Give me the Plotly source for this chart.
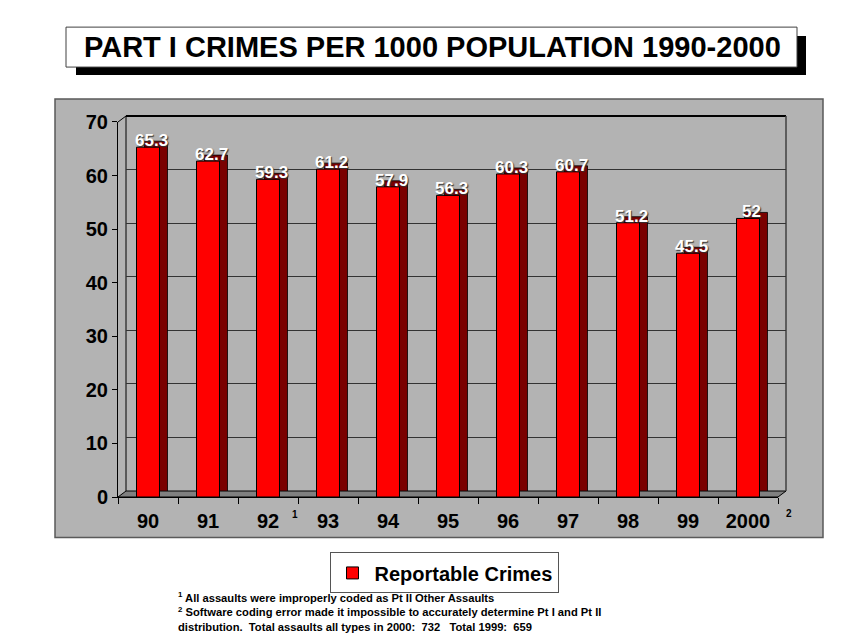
import plotly.graph_objects as go

# ---- data ----
years = ["90", "91", "92", "93", "94", "95", "96", "97", "98", "99", "2000"]
rates = [65.3, 62.7, 59.3, 61.2, 57.9, 56.3, 60.3, 60.7, 51.2, 45.5, 52]
rate_labels = [f"{v:g}" for v in rates]
y_ticks = [0, 10, 20, 30, 40, 50, 60, 70]
series_name = "Reportable Crimes"
title_text = "PART I CRIMES PER 1000 POPULATION 1990-2000"
footnotes = ("<sup>1</sup> All assaults were improperly coded as Pt II Other Assaults<br>"
             "<sup>2</sup> Software coding error made it impossible to accurately determine Pt I and Pt II<br>"
             "distribution.  Total assaults all types in 2000:  732   Total 1999:  659")

# ---- geometry (pixels in the 845x642 window) ----
FIG_W, FIG_H = 845, 642
OFF = 8  # page body margin
L, R, T, B = 118, 786, 116, 497.5
W, H = R - L, B - T
DX, DY = 8, 6  # 3-D depth


def px(x):
    return (x - L) / W


def py(y):
    return (B - y) / H


FONT = "Liberation Sans, Arial, Helvetica, sans-serif"

fig = go.Figure()

# back (depth) faces
fig.add_trace(go.Bar(
    x=years, y=rates, xaxis="x", yaxis="y",
    marker=dict(color="#7a0000", line=dict(color="#000000", width=0.8)),
    showlegend=False, hoverinfo="skip"))

# front faces
fig.add_trace(go.Bar(
    x=years, y=rates, xaxis="x2", yaxis="y2", name=series_name,
    marker=dict(color="#ff0000", line=dict(color="#000000", width=1))))

shapes = []
# grey chart box
shapes.append(dict(type="rect", xref="paper", yref="paper",
                   x0=px(55), x1=px(823), y0=py(538), y1=py(99),
                   fillcolor="#b3b3b3", line=dict(color="#5a5a5a", width=1.5),
                   layer="below"))
# floor
shapes.append(dict(type="path", xref="paper", yref="paper",
                   path=f"M{px(L)},{py(B)} L{px(R-DX)},{py(B)} L{px(R)},{py(B-DY)} L{px(L+DX)},{py(B-DY)} Z",
                   fillcolor="#808080", line=dict(color="#000000", width=1), layer="below"))
# left wall edges
shapes.append(dict(type="line", xref="paper", yref="paper",
                   x0=px(L + DX), x1=px(L + DX), y0=py(B - DY), y1=py(T),
                   line=dict(color="#000000", width=1), layer="below"))
shapes.append(dict(type="line", xref="paper", yref="paper",
                   x0=px(L), x1=px(L + DX), y0=py(T + DY), y1=py(T),
                   line=dict(color="#000000", width=1), layer="below"))
# back wall top and right
shapes.append(dict(type="line", xref="paper", yref="paper",
                   x0=px(L + DX), x1=px(R), y0=py(T), y1=py(T),
                   line=dict(color="#000000", width=2), layer="below"))
shapes.append(dict(type="line", xref="paper", yref="paper",
                   x0=px(R), x1=px(R), y0=py(T), y1=py(B - DY),
                   line=dict(color="#404040", width=1.5), layer="below"))
# title shadow and box
shapes.append(dict(type="rect", xref="paper", yref="paper",
                   x0=px(76), x1=px(806), y0=py(75), y1=py(36),
                   fillcolor="#000000", line=dict(width=0), layer="below"))
shapes.append(dict(type="rect", xref="paper", yref="paper",
                   x0=px(66), x1=px(797), y0=py(67), y1=py(27),
                   fillcolor="#ffffff", line=dict(color="#404040", width=1), layer="below"))

annotations = [
    dict(text=title_text, xref="paper", yref="paper", x=px(432), y=py(47),
         xanchor="center", yanchor="middle", showarrow=False,
         font=dict(family=FONT, size=29, color="#000000", weight="bold")),
    dict(text="1", xref="paper", yref="paper", x=px(295), y=py(515),
         xanchor="center", yanchor="middle", showarrow=False,
         font=dict(family=FONT, size=10, color="#000000", weight="bold")),
    dict(text="2", xref="paper", yref="paper", x=px(789), y=py(514),
         xanchor="center", yanchor="middle", showarrow=False,
         font=dict(family=FONT, size=10, color="#000000", weight="bold")),
    dict(text=footnotes, xref="paper", yref="paper", x=px(176), y=py(589),
         xanchor="left", yanchor="top", align="left", showarrow=False,
         font=dict(family=FONT, size=11.2, color="#000000", weight="bold")),
]

# value labels (placed on the data points of the front bars; x = category index)
for i, (v, lab) in enumerate(zip(rates, rate_labels)):
    annotations.append(dict(
        text=lab, xref="x2", yref="y2", x=i, y=v,
        xanchor="center", yanchor="bottom", xshift=3, yshift=-5,
        showarrow=False,
        font=dict(family=FONT, size=17, color="#ffffff", weight="bold",
                  shadow="1px 1px 1px #303030")))

fig.update_layout(
    width=FIG_W - OFF, height=FIG_H - OFF,
    margin=dict(l=L - OFF, r=FIG_W - R, t=T - OFF, b=FIG_H - B, pad=0),
    paper_bgcolor="#ffffff", plot_bgcolor="rgba(0,0,0,0)",
    bargap=0.617, barmode="group",
    font=dict(family=FONT, color="#000000"),
    shapes=shapes, annotations=annotations,
    xaxis=dict(domain=[DX / W, 1], anchor="y", type="category",
               showticklabels=False, ticks="", showgrid=False, showline=False,
               zeroline=False),
    yaxis=dict(domain=[DY / H, 1], anchor="x", range=[0, 70], tickvals=y_ticks,
               showticklabels=False, ticks="", showgrid=True,
               gridcolor="#333333", gridwidth=1, zeroline=False, showline=False),
    xaxis2=dict(domain=[0, (W - DX) / W], anchor="y2", type="category",
                tickson="boundaries", ticks="outside", ticklen=6, tickcolor="#000000",
                showline=True, linecolor="#000000", linewidth=1, showgrid=False,
                tickangle=0, ticklabelstandoff=6,
                tickfont=dict(family=FONT, size=20, weight="bold", color="#000000")),
    yaxis2=dict(domain=[0, (H - DY) / H], anchor="x2", range=[0, 70], tickvals=y_ticks,
                ticks="outside", ticklen=5, tickcolor="#000000",
                showline=True, linecolor="#000000", linewidth=1, showgrid=False,
                zeroline=False,
                tickfont=dict(family=FONT, size=20, weight="bold", color="#000000")),
    legend=dict(x=px(444), y=py(553), xanchor="center", yanchor="top",
                bgcolor="#ffffff", bordercolor="#555555", borderwidth=1,
                font=dict(family=FONT, size=20, weight="bold", color="#000000"),
                itemwidth=34, orientation="h"),
)

fig.write_html("out.html")
